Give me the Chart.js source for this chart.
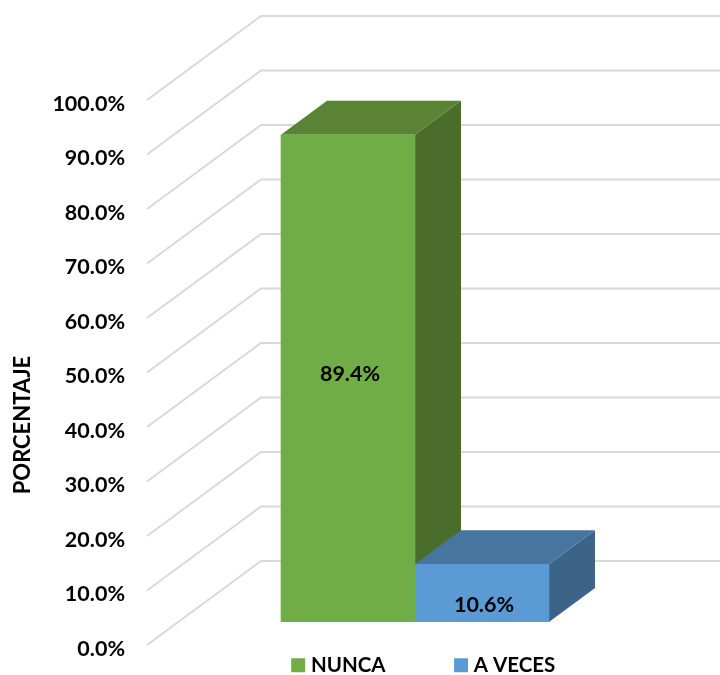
<!DOCTYPE html>
<html>
<head>
<meta charset="utf-8">
<script src="https://cdn.jsdelivr.net/npm/chart.js@4/dist/chart.umd.min.js"></script>
<style>
  html, body { margin: 0; padding: 0; background: #fff; }
  #wrap { width: 720px; height: 675px; }
</style>
</head>
<body>
<div id="wrap"><canvas id="bars"></canvas></div>
<script>
const categories = ["NUNCA", "A VECES"];
const values = [89.4, 10.6];
const frontColors = ["#70AD47", "#5B9BD5"];
const topColors = ["#5A8336", "#4775A0"];
const sideColors = ["#4A6D2B", "#3B6488"];
const tickStep = 10;
const axisTitle = "PORCENTAJE";

const FONT = "Lato, Carlito, sans-serif";

// depth of the bar box, and where the walls sit relative to the bar plane
const barDepth = { x: 46, y: -34 };
const backWall = { x: 83, y: -61 };
const frontEdge = { x: -31, y: 23 };
const labelShift = [-4, 12];

const box3d = {
  id: "box3d",
  afterLayout(chart) {
    // legend row sits lower than the layout would put it
    chart.legend.left += 10.5;
    chart.legend.right += 10.5;
    chart.legend.top = 582;
    chart.legend.bottom = 675;
  },
  beforeDatasetsDraw(chart) {
    const { ctx, scales: { x, y }, width } = chart;
    ctx.save();

    // floor and wall lines
    ctx.strokeStyle = "#D9D9D9";
    ctx.lineWidth = 2;
    for (let v = 0; v <= 100; v += tickStep) {
      const py = y.getPixelForValue(v);
      ctx.beginPath();
      ctx.moveTo(x.left + frontEdge.x, py + frontEdge.y);
      ctx.lineTo(x.left + backWall.x, py + backWall.y);
      ctx.lineTo(width, py + backWall.y);
      ctx.stroke();
    }

    // top and side faces, back to front
    values.forEach((val, i) => {
      const bar = chart.getDatasetMeta(i).data[0];
      const l = bar.x - bar.width / 2;
      const r = bar.x + bar.width / 2;
      const t = bar.y;
      const b = bar.base;
      const dx = barDepth.x;
      const dy = barDepth.y;

      ctx.fillStyle = sideColors[i];
      ctx.beginPath();
      ctx.moveTo(r, t);
      ctx.lineTo(r + dx, t + dy);
      ctx.lineTo(r + dx, b + dy);
      ctx.lineTo(r, b);
      ctx.closePath();
      ctx.fill();

      ctx.fillStyle = topColors[i];
      ctx.beginPath();
      ctx.moveTo(l, t);
      ctx.lineTo(l + dx, t + dy);
      ctx.lineTo(r + dx, t + dy);
      ctx.lineTo(r, t);
      ctx.closePath();
      ctx.fill();
    });
    ctx.restore();
  },
  afterDatasetsDraw(chart) {
    const { ctx } = chart;
    ctx.save();
    ctx.fillStyle = "#000";
    ctx.font = "bold 21.5px " + FONT;
    ctx.textAlign = "center";
    ctx.textBaseline = "middle";
    values.forEach((val, i) => {
      const bar = chart.getDatasetMeta(i).data[0];
      ctx.fillText(val.toFixed(1) + "%", bar.x + 2, (bar.y + bar.base) / 2 + labelShift[i]);
    });

    // axis title sits low, so it is placed by hand
    ctx.font = "bold 22px " + FONT;
    ctx.translate(23, 425);
    ctx.rotate(-Math.PI / 2);
    ctx.fillText(axisTitle, 0, 0);
    ctx.restore();
  },
};

new Chart(document.getElementById("bars"), {
  type: "bar",
  data: {
    labels: [""],
    datasets: categories.map((name, i) => ({
      label: name,
      data: [values[i]],
      backgroundColor: frontColors[i],
      barThickness: 134,
    })),
  },
  options: {
    responsive: true,
    maintainAspectRatio: false,
    animation: false,
    layout: { padding: { top: 77, right: 68, bottom: 0, left: 0 } },
    plugins: {
      tooltip: { enabled: false },
      legend: {
        position: "bottom",
        fullSize: false,
        maxHeight: 53,
        labels: {
          color: "#000",
          boxWidth: 5,
          boxHeight: 5,
          padding: 73,
          font: { family: FONT, size: 20.5, weight: "bold" },
          // a thick outline gives the 14px swatch with a tighter gap to the text
          generateLabels(chart) {
            const items = Chart.defaults.plugins.legend.labels.generateLabels(chart);
            items.forEach((item) => {
              item.lineWidth = 9;
              item.strokeStyle = item.fillStyle;
            });
            return items;
          },
        },
      },
    },
    scales: {
      x: { display: false },
      y: {
        min: 0,
        max: 100,
        afterFit(scale) {
          scale.width = 178;
          scale.paddingTop = 0;
          scale.paddingBottom = 0;
        },
        grid: { display: false },
        border: { display: false },
        ticks: {
          stepSize: tickStep,
          color: "#000",
          padding: 45,
          labelOffset: 27,
          font: { family: FONT, size: 21.5, weight: "bold" },
          callback: (v) => v.toFixed(1) + "%",
        },
      },
    },
  },
  plugins: [box3d],
});
</script>
</body>
</html>
